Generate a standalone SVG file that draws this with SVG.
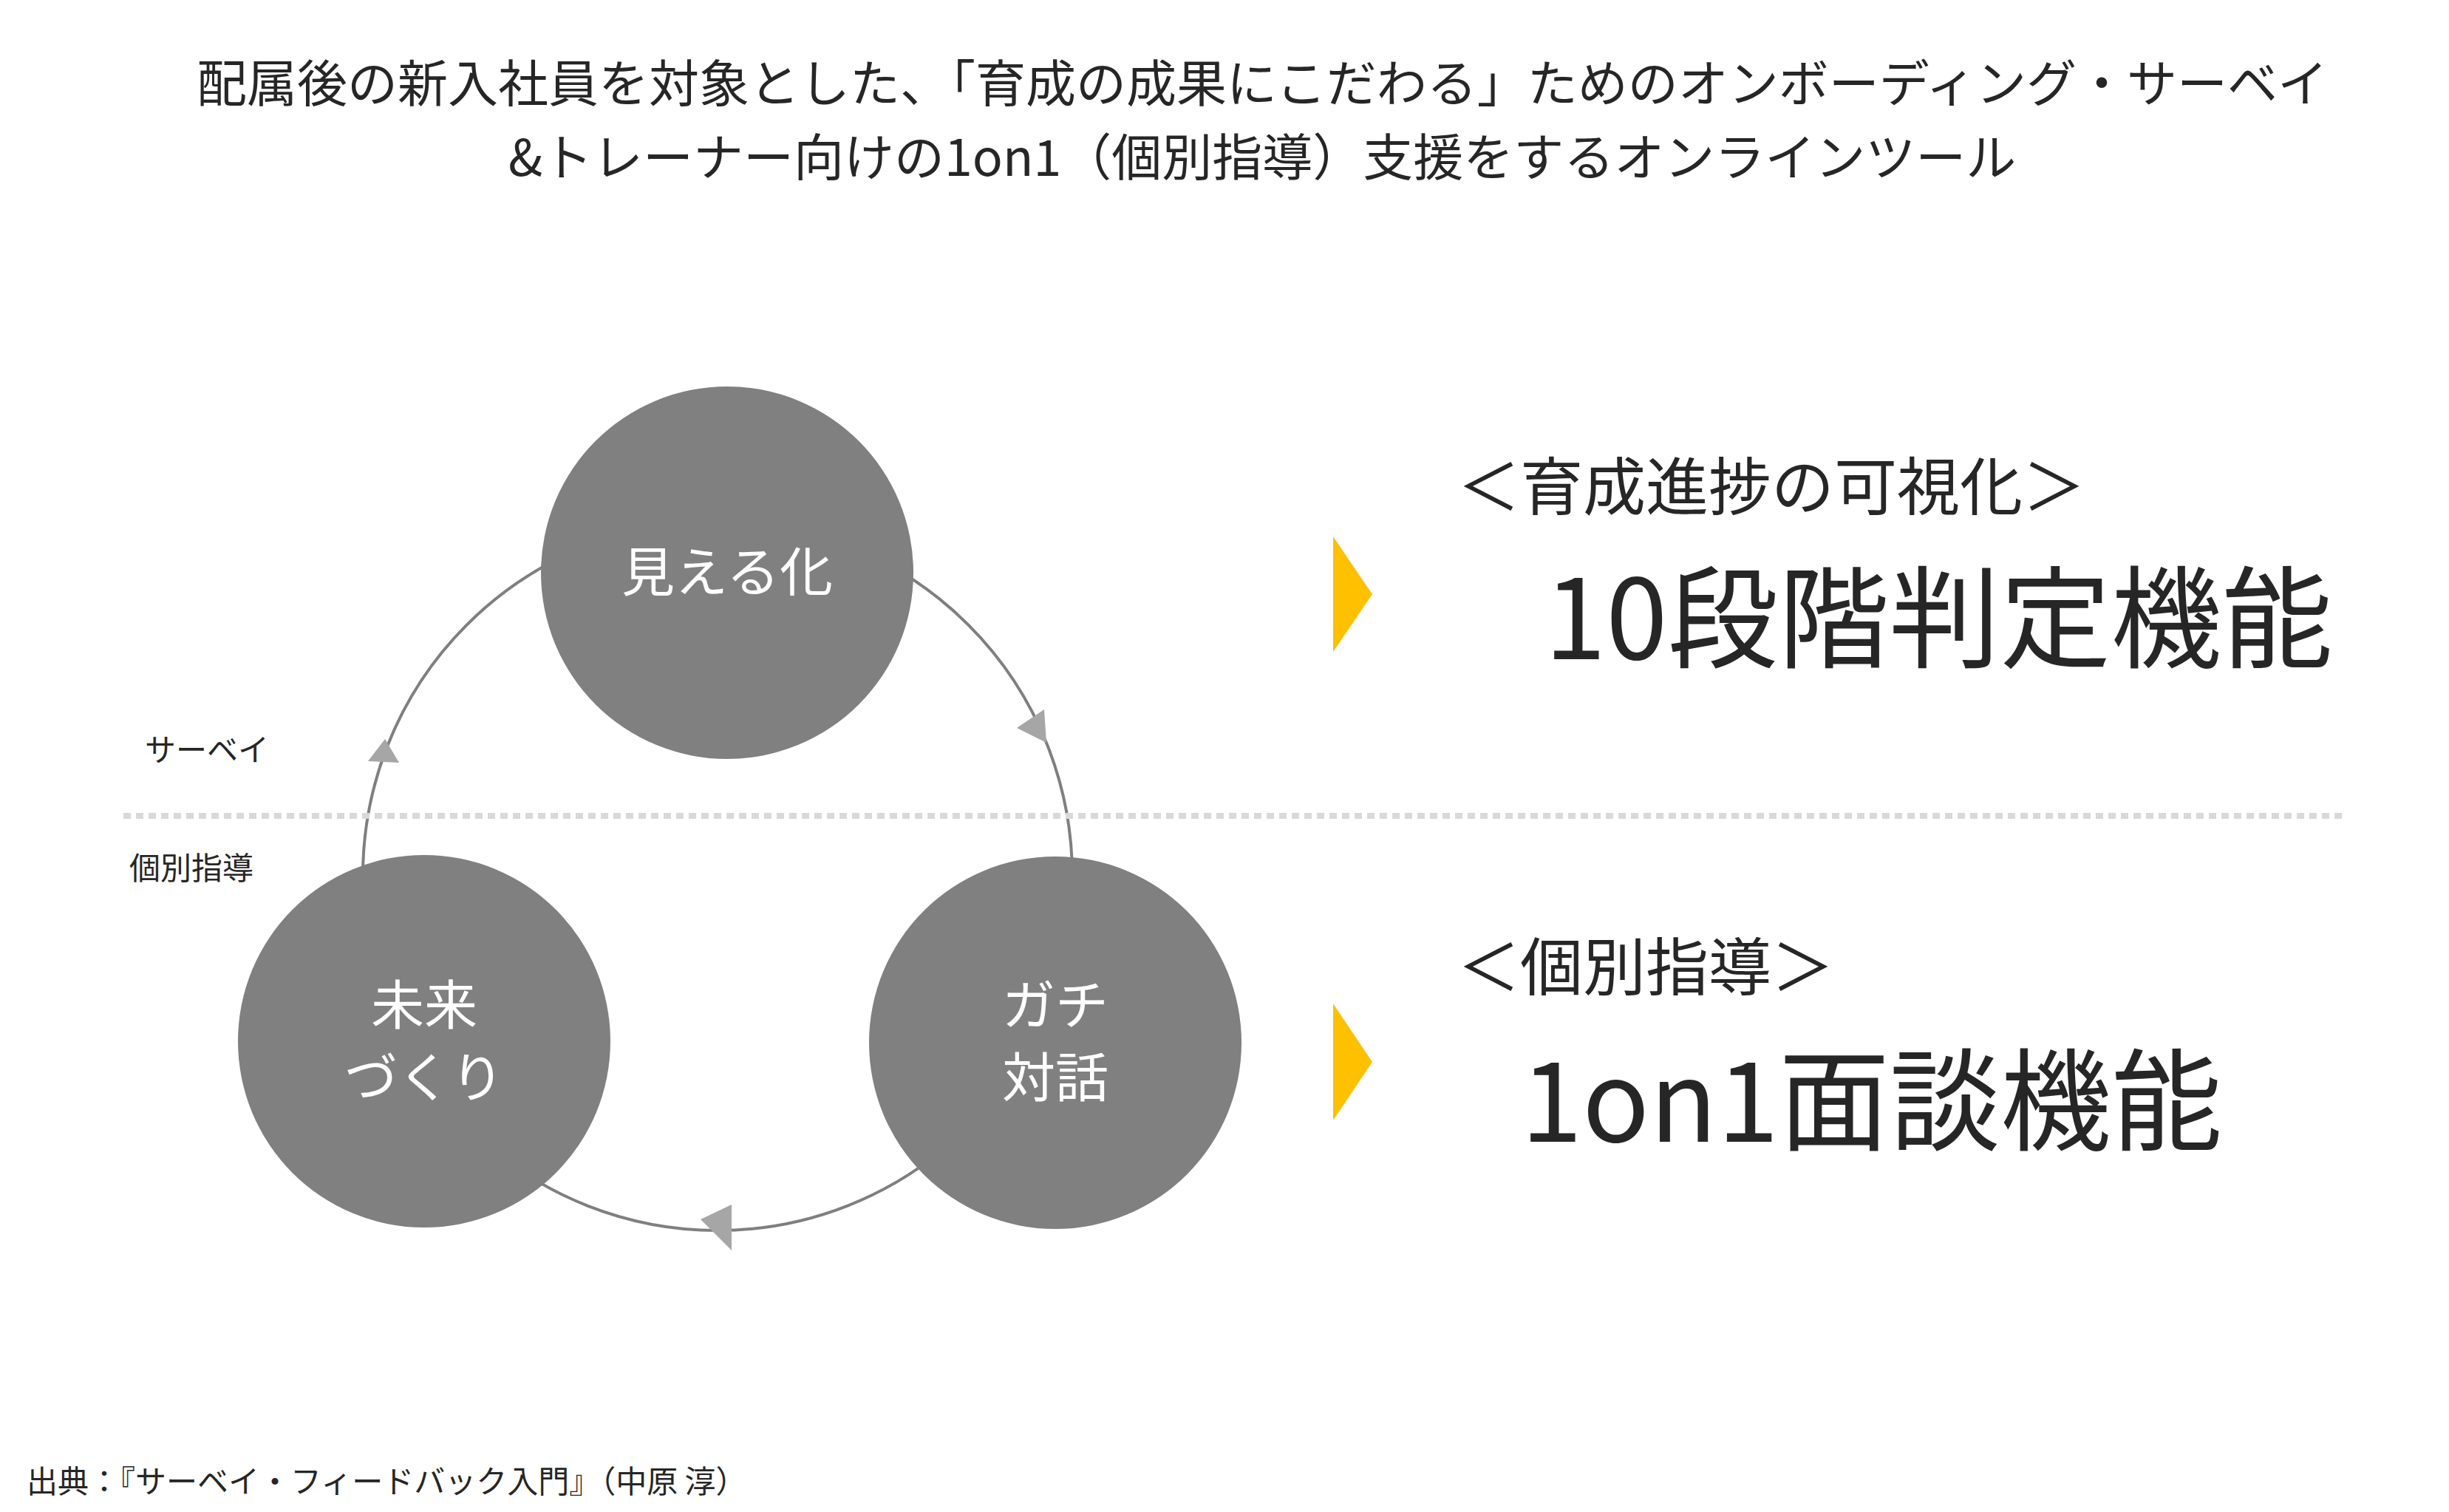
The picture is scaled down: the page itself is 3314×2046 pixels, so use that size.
<svg xmlns="http://www.w3.org/2000/svg" width="3314" height="2046" viewBox="0 0 3314 2046">
<style>
text{font-family:"Noto Sans CJK JP","Noto Sans",sans-serif;fill:#262626}
.n{fill:#808080}
.nt{fill:#fff;font-size:72px;text-anchor:middle}
.arr{fill:#a6a6a6}
.chev{fill:#FFC000}
</style>
<rect width="3314" height="2046" fill="#fff"/>
<text x="1708" y="138" font-size="68" text-anchor="middle">配属後の新入社員を対象とした、「育成の成果にこだわる」ためのオンボーディング・サーベイ</text>
<text x="1708" y="238" font-size="68" text-anchor="middle">&amp;トレーナー向けの1on1（個別指導）支援をするオンラインツール</text>
<g id="connectors">
<circle cx="971" cy="1185" r="480" fill="none" stroke="#7f7f7f" stroke-width="4"/>
<polygon class="arr" points="521,1000 498,1030 540,1032"/>
<polygon class="arr" points="1416,1005 1376,985 1413,960"/>
<polygon class="arr" points="948,1650 990,1630 990,1692" transform="rotate(0)"/>
</g>
<line x1="167" y1="1104" x2="3175" y2="1104" stroke="#d9d9d9" stroke-width="8" stroke-dasharray="10,7"/>
<text x="196" y="1030" font-size="42">サーベイ</text>
<text x="175" y="1190" font-size="42">個別指導</text>
<g id="node-mieruka"><circle class="n" cx="984" cy="775" r="252"/><text class="nt" x="984" y="800">見える化</text></g>
<g id="node-mirai"><circle class="n" cx="574" cy="1409" r="252"/><text class="nt" x="574" y="1386">未来</text><text class="nt" x="574" y="1484">づくり</text></g>
<g id="node-gachi"><circle class="n" cx="1428" cy="1411" r="252"/><text class="nt" x="1428" y="1386">ガチ</text><text class="nt" x="1428" y="1484">対話</text></g>
<g id="right">
<polygon class="chev" points="1804,726 1857,804 1804,882"/>
<polygon class="chev" points="1804,1358 1857,1437 1804,1516"/>
<text x="1972" y="690" font-size="85">＜育成進捗の可視化＞</text>
<text x="2090" y="892" font-size="150">10段階判定機能</text>
<text x="1972" y="1340" font-size="85">＜個別指導＞</text>
<text x="2058" y="1545" font-size="150">1on1面談機能</text>
</g>
<text x="36" y="2020" font-size="42">出典：『サーベイ・フィードバック入門』（中原 淳）</text>
</svg>
